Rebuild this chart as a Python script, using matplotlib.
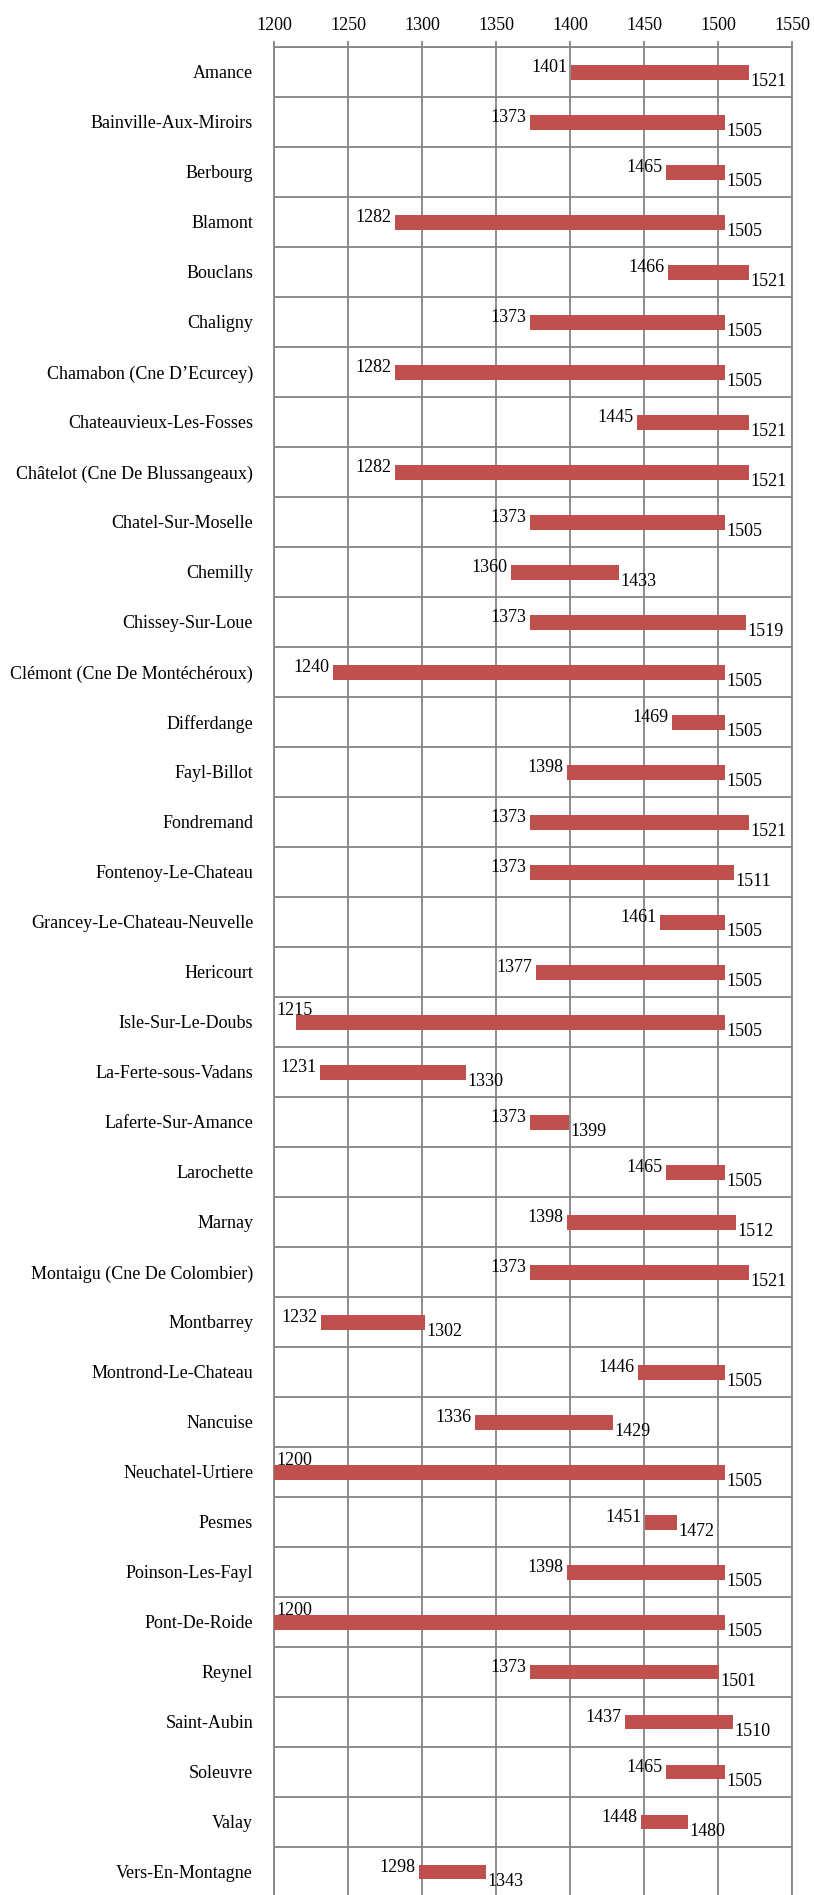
import numpy as np
import matplotlib
matplotlib.use("Agg")
import matplotlib.pyplot as plt

# ---------------- DATA ----------------
sites = [
    "Amance", "Bainville-Aux-Miroirs", "Berbourg", "Blamont", "Bouclans",
    "Chaligny", "Chamabon (Cne D\u2019Ecurcey)", "Chateauvieux-Les-Fosses",
    "Ch\u00e2telot (Cne De Blussangeaux)", "Chatel-Sur-Moselle", "Chemilly",
    "Chissey-Sur-Loue", "Cl\u00e9mont (Cne De Mont\u00e9ch\u00e9roux)", "Differdange",
    "Fayl-Billot", "Fondremand", "Fontenoy-Le-Chateau",
    "Grancey-Le-Chateau-Neuvelle", "Hericourt", "Isle-Sur-Le-Doubs",
    "La-Ferte-sous-Vadans", "Laferte-Sur-Amance", "Larochette", "Marnay",
    "Montaigu (Cne De Colombier)", "Montbarrey", "Montrond-Le-Chateau",
    "Nancuise", "Neuchatel-Urtiere", "Pesmes", "Poinson-Les-Fayl",
    "Pont-De-Roide", "Reynel", "Saint-Aubin", "Soleuvre", "Valay",
    "Vers-En-Montagne",
]
start_year = [
    1401, 1373, 1465, 1282, 1466, 1373, 1282, 1445, 1282, 1373, 1360,
    1373, 1240, 1469, 1398, 1373, 1373, 1461, 1377, 1215, 1231, 1373,
    1465, 1398, 1373, 1232, 1446, 1336, 1200, 1451, 1398, 1200, 1373,
    1437, 1465, 1448, 1298,
]
end_year = [
    1521, 1505, 1505, 1505, 1521, 1505, 1505, 1521, 1521, 1505, 1433,
    1519, 1505, 1505, 1505, 1521, 1511, 1505, 1505, 1505, 1330, 1399,
    1505, 1512, 1521, 1302, 1505, 1429, 1505, 1472, 1505, 1505, 1501,
    1510, 1505, 1480, 1343,
]
x_ticks = [1200, 1250, 1300, 1350, 1400, 1450, 1500, 1550]
# --------------------------------------

BAR_COLOR = "#C0504D"
GRID_COLOR = "#858585"
FONT = ["Liberation Serif", "DejaVu Serif"]

plt.rcParams["font.family"] = FONT
plt.rcParams["font.size"] = 13

fig = plt.figure(figsize=(8.14, 18.95), dpi=100)
W, H = 814, 1895
left, right, top, bottom = 274, 792, 47, 1897
ax = fig.add_axes([left / W, 1 - bottom / H, (right - left) / W, (bottom - top) / H])

n = len(sites)
y = np.arange(n)
start = np.array(start_year)
end = np.array(end_year)

ax.barh(y, end - start, left=start, height=0.3, color=BAR_COLOR, zorder=3)

ax.set_xlim(x_ticks[0], x_ticks[-1])
ax.set_ylim(n - 0.5, -0.5)

# year labels next to each bar
for yi, s, e in zip(y, start, end):
    if s < 1225:
        # no room on the left: pushed inside the plot, a bit higher
        ax.annotate(str(s), (x_ticks[0], yi - 0.14), xytext=(1.5, 0),
                    textcoords="offset points", ha="left", va="baseline",
                    fontsize=13, zorder=4)
    else:
        ax.annotate(str(s), (s, yi), xytext=(-2.5, 0),
                    textcoords="offset points", ha="right", va="baseline",
                    fontsize=13, zorder=4)
    ax.annotate(str(e), (e, yi + 0.29), xytext=(1, 0),
                textcoords="offset points", ha="left", va="baseline",
                fontsize=13, zorder=4)

# x axis on top
ax.xaxis.tick_top()
ax.set_xticks(x_ticks)
ax.set_xticklabels([str(t) for t in x_ticks])
ax.tick_params(axis="x", which="major", length=4.3, width=1.3, color=GRID_COLOR,
               pad=5, labelsize=13)

# y labels
ax.set_yticks(y)
ax.set_yticklabels(sites)
ax.tick_params(axis="y", which="major", length=0, pad=15, labelsize=13)
ax.set_yticks(np.arange(-0.5, n, 1), minor=True)
ax.tick_params(axis="y", which="minor", length=0)

ax.grid(True, axis="x", which="major", color=GRID_COLOR, linewidth=1.3, zorder=1)
ax.grid(True, axis="y", which="minor", color=GRID_COLOR, linewidth=1.3, zorder=1)
ax.set_axisbelow(True)

for side in ["left", "right", "top"]:
    ax.spines[side].set_color(GRID_COLOR)
    ax.spines[side].set_linewidth(1.3)
ax.spines["bottom"].set_visible(False)

fig.savefig("out.png", dpi=100)
